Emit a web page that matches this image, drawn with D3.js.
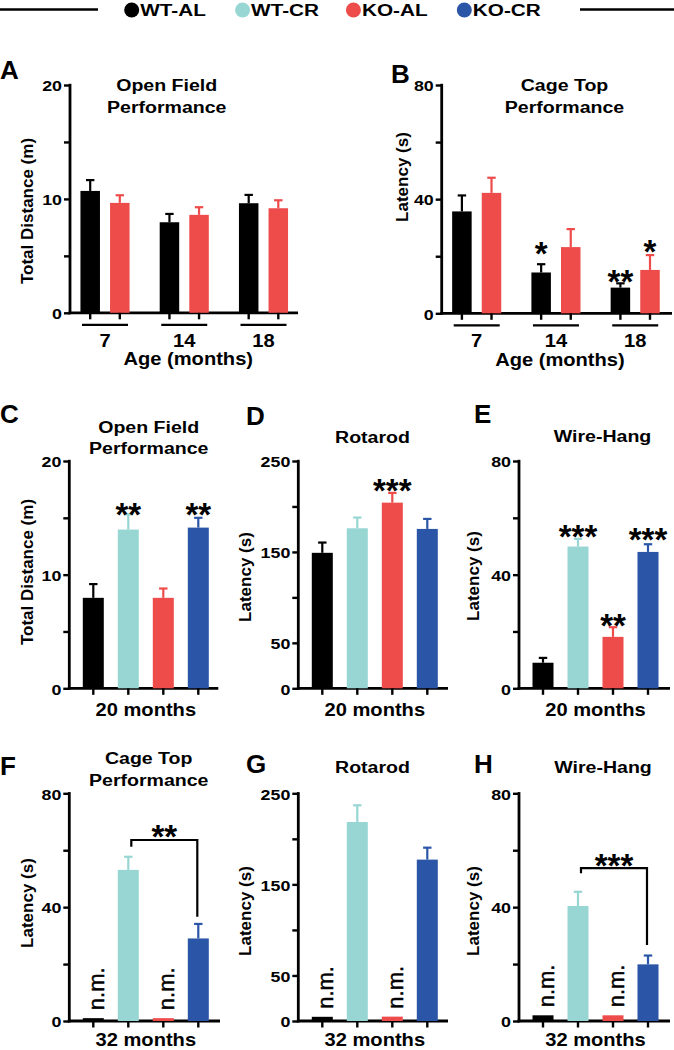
<!DOCTYPE html>
<html><head><meta charset="utf-8">
<script src="https://cdn.jsdelivr.net/npm/d3@7"></script>
<style>
body{margin:0;background:#fff}
svg{display:block}
text{font-family:"Liberation Sans",Arial,sans-serif;font-weight:bold;fill:#000}
</style>
</head><body><svg id="c" width="674" height="1050"></svg>
<script>
// ---------------- DATA ----------------
const seriesNames  = ['WT-AL','WT-CR','KO-AL','KO-CR'];
const seriesColors = ['#000000','#98d6d4','#ee4b4b','#2b55a6'];
const ageGroups    = ['7','14','18'];

// A: Open field, total distance (m) by age
const aWTAL = [10.7, 7.95, 9.62],  aWTALerr = [0.95, 0.73, 0.73];
const aKOAL = [9.65, 8.6, 9.18],   aKOALerr = [0.67, 0.67, 0.70];
// B: Cage top latency (s) by age
const bWTAL = [35.7, 14.3, 9.0],   bWTALerr = [5.6, 2.9, 1.5];
const bKOAL = [42.2, 23.2, 15.2],  bKOALerr = [5.3, 6.3, 5.2];
const bStars = [{g:'14', s:'WT-AL', t:'*', at:21.6}, {g:'18', s:'WT-AL', t:'**', at:11.7}, {g:'18', s:'KO-AL', t:'*', at:22.2}];
// C-E: 20 months
const cMean = [7.96, 13.97, 7.96, 14.14],  cErr = [1.21, 1.33, 0.82, 0.86];
const cStars = [null, '**', null, '**'],   cStarAt = [0, 15.5, 0, 15.5];
const dMean = [149, 176, 204.2, 175.3],    dErr = [11.3, 11.8, 10.7, 11.0];
const dStars = [null, null, '***', null],  dStarAt = [0, 0, 219.7, 0];
const eMean = [9.0, 49.9, 18.1, 48.0],     eErr = [1.7, 2.7, 3.4, 2.7];
const eStars = [null, '***', '**', '***'], eStarAt = [0, 54.2, 22.8, 53.1];
// F-H: 32 months (n.m. = not measurable)
const fMean = [1.0, 53.1, 1.0, 29.0],   fErr = [0, 4.6, 0, 5.1];
const gMean = [4.6, 218.5, 4.8, 177.2], gErr = [0, 18.3, 0, 13.1];
const hMean = [2.0, 40.4, 2.0, 19.9],   hErr = [0, 5.0, 0, 3.1];
const nmFlags = [true, false, true, false];
const fBracket = {from:'WT-CR', to:'KO-CR', top:63.6, left:61.2, right:36.6, t:'**'};
const hBracket = {from:'WT-CR', to:'KO-CR', top:53.7, left:51.9, right:26.7, t:'***'};

const ticks20 = [0,5,10,15,20],  labels20 = [0,10,20];
const ticks80 = [0,20,40,60,80], labels80 = [0,40,80];
const ticks250 = [0,50,100,150,200,250], labels250 = [0,50,150,250];

// ---------------- DRAW ----------------
const K = 1.15;
const svg = d3.select('#c');
const color = d3.scaleOrdinal().domain(seriesNames).range(seriesColors);

function hText(g, x, y, str, size, anchor, k) {
  return g.append('text').attr('transform', `translate(${x},${y}) scale(${k===undefined?K:k},1)`)
    .attr('text-anchor', anchor || 'middle').style('font-size', size + 'px').text(str);
}
function vText(g, x, y, str, size) {
  return g.append('text').attr('transform', `translate(${x},${y}) rotate(-90)`)
    .attr('text-anchor', 'middle').style('font-size', size + 'px').text(str);
}

function frame(cfg) {
  const g = svg.append('g');
  const y = d3.scaleLinear().domain([0, cfg.max]).range([cfg.yBot, cfg.yTop]);
  const ax = g.append('g').attr('transform', `translate(${cfg.x0},0)`)
    .call(d3.axisLeft(y).tickValues(cfg.ticks).tickSize(6).tickSizeOuter(0)
      .tickFormat(d => cfg.labels.includes(d) ? d : ''));
  ax.select('.domain').remove();
  ax.selectAll('.tick line').attr('stroke', '#000').attr('stroke-width', 2.4);
  ax.selectAll('.tick text').attr('x', 0).attr('dy', null)
    .attr('transform', `translate(-8,5.7) scale(${K},1)`)
    .attr('text-anchor', 'end').style('font-size', '15.5px').style('font-family', null);
  g.append('line').attr('x1', cfg.x0).attr('x2', cfg.x0).attr('y1', cfg.yTop - 1.2).attr('y2', cfg.yBot + 1.4)
    .attr('stroke', '#000').attr('stroke-width', 2.8);
  g.append('line').attr('x1', cfg.x0 - 1.4).attr('x2', cfg.x1).attr('y1', cfg.yBot).attr('y2', cfg.yBot)
    .attr('stroke', '#000').attr('stroke-width', 2.8);
  // panel letter
  hText(g, cfg.letter[1], cfg.letter[2], cfg.letter[0], 26, 'start', 1);
  // title
  cfg.title.forEach((t, i) => hText(g, cfg.titleX, cfg.titleY[i], t, 17));
  // y title
  vText(g, cfg.ytX, cfg.ytY, cfg.ytitle, 17);
  return {g, y};
}

function bar(g, y, cx, w, v, e, col) {
  g.append('rect').attr('x', cx - w / 2).attr('width', w)
    .attr('y', y(v)).attr('height', y(0) - y(v)).attr('fill', col);
  if (e > 0) {
    g.append('line').attr('x1', cx).attr('x2', cx).attr('y1', y(v)).attr('y2', y(v + e))
      .attr('stroke', col).attr('stroke-width', 2.2);
    g.append('line').attr('x1', cx - 4.2).attr('x2', cx + 4.2).attr('y1', y(v + e)).attr('y2', y(v + e))
      .attr('stroke', col).attr('stroke-width', 2.2);
  }
}
function xTick(g, cx, yb) {
  g.append('line').attr('x1', cx).attr('x2', cx).attr('y1', yb).attr('y2', yb + 6.5)
    .attr('stroke', '#000').attr('stroke-width', 2.4);
}
function stars(g, cx, yPix, t) {
  g.append('text').attr('x', cx).attr('y', yPix + 13.5).attr('text-anchor', 'middle')
    .style('font-size', '33px').text(t);
}

// ---- Panels A & B (age series) ----
function agePanel(cfg, wt, wtErr, ko, koErr, starList) {
  const {g, y} = frame(cfg);
  const gx = d3.scalePoint().domain(ageGroups).range([cfg.x0 + 35, cfg.x0 + 193.5]);
  const sx = d3.scalePoint().domain(['WT-AL', 'KO-AL']).range([-14.8, 14.8]);
  ageGroups.forEach((grp, i) => {
    [['WT-AL', wt[i], wtErr[i]], ['KO-AL', ko[i], koErr[i]]].forEach(([s, v, e]) => {
      const cx = gx(grp) + sx(s);
      bar(g, y, cx, 19.5, v, e, color(s));
      xTick(g, cx, cfg.yBot);
    });
    g.append('line').attr('x1', gx(grp) - 23).attr('x2', gx(grp) + 23)
      .attr('y1', cfg.yBot + 12).attr('y2', cfg.yBot + 12).attr('stroke', '#000').attr('stroke-width', 2.2);
    hText(g, gx(grp), cfg.yBot + 34, grp, 17.5);
  });
  (starList || []).forEach(st => stars(g, gx(st.g) + sx(st.s), y(st.at), st.t));
  hText(g, (gx('7') + gx('18')) / 2 + 4, cfg.yBot + 52.5, 'Age (months)', 17.5);
}

agePanel({x0:70, x1:298, yTop:85, yBot:312.8, max:20, ticks:ticks20, labels:labels20,
  letter:['A', 0, 79], title:['Open Field','Performance'], titleX:166.7, titleY:[91, 113],
  ytitle:'Total Distance (m)', ytX:32.5, ytY:211}, aWTAL, aWTALerr, aKOAL, aKOALerr, []);
agePanel({x0:441.7, x1:672, yTop:85, yBot:313.3, max:80, ticks:ticks80, labels:labels80,
  letter:['B', 391, 83], title:['Cage Top','Performance'], titleX:564.5, titleY:[90.5, 112.7],
  ytitle:'Latency (s)', ytX:407.5, ytY:177}, bWTAL, bWTALerr, bKOAL, bKOALerr, bStars);

// ---- Panels C-H (four groups) ----
function groupPanel(cfg, mean, err, starT, starAt, nm, bracket) {
  const {g, y} = frame(cfg);
  const x = d3.scalePoint().domain(seriesNames).range([cfg.x0 + 24, cfg.x0 + 129]);
  seriesNames.forEach((s, i) => {
    bar(g, y, x(s), 21, mean[i], err[i], color(s));
    xTick(g, x(s), cfg.yBot);
    if (starT && starT[i]) stars(g, x(s), y(starAt[i]), starT[i]);
    if (nm && nm[i]) {
      g.append('text').attr('transform', `translate(${x(s) + 11},${y(mean[i]) - 8}) rotate(-90)`)
        .attr('text-anchor', 'start').style('font-size', '22px').style('font-weight', 'normal')
        .attr('stroke', '#000').attr('stroke-width', 0.5).text('n.m.');
    }
  });
  if (bracket) {
    const xl = x(bracket.from) + 3, xr = x(bracket.to) - 1;
    g.append('path').attr('d', `M${xl},${y(bracket.left)}V${y(bracket.top)}H${xr}V${y(bracket.right)}`)
      .attr('fill', 'none').attr('stroke', '#000').attr('stroke-width', 2.2);
    stars(g, (xl + xr) / 2, y(bracket.top) - 5, bracket.t);
  }
  hText(g, (x('WT-AL') + x('KO-CR')) / 2, cfg.xlY, cfg.xlabel, 17.5);
}

groupPanel({x0:69.3, x1:218.3, yTop:461, yBot:688.3, max:20, ticks:ticks20, labels:labels20,
  letter:['C', 0, 423.3], title:['Open Field','Performance'], titleX:148.7, titleY:[432.7, 453.5],
  ytitle:'Total Distance (m)', ytX:32.5, ytY:572, xlabel:'20 months', xlY:715.5}, cMean, cErr, cStars, cStarAt);
groupPanel({x0:298.3, x1:448, yTop:461, yBot:688.3, max:250, ticks:ticks250, labels:labels250,
  letter:['D', 246, 425], title:['Rotarod'], titleX:372.5, titleY:[442.7],
  ytitle:'Latency (s)', ytX:250.5, ytY:577, xlabel:'20 months', xlY:715.5}, dMean, dErr, dStars, dStarAt);
groupPanel({x0:519, x1:670, yTop:461, yBot:688.3, max:80, ticks:ticks80, labels:labels80,
  letter:['E', 474, 423.3], title:['Wire-Hang'], titleX:602.5, titleY:[441.7],
  ytitle:'Latency (s)', ytX:479, ytY:576, xlabel:'20 months', xlY:715.5}, eMean, eErr, eStars, eStarAt);
groupPanel({x0:69.3, x1:220, yTop:793.3, yBot:1021, max:80, ticks:ticks80, labels:labels80,
  letter:['F', 0, 775], title:['Cage Top','Performance'], titleX:148.7, titleY:[764, 785.5],
  ytitle:'Latency (s)', ytX:32.5, ytY:903, xlabel:'32 months', xlY:1045.5}, fMean, fErr, null, null, nmFlags, fBracket);
groupPanel({x0:298.3, x1:448, yTop:793.3, yBot:1021, max:250, ticks:ticks250, labels:labels250,
  letter:['G', 246, 773.3], title:['Rotarod'], titleX:372.5, titleY:[773.3],
  ytitle:'Latency (s)', ytX:250.5, ytY:911, xlabel:'32 months', xlY:1045.5}, gMean, gErr, null, null, nmFlags);
groupPanel({x0:519, x1:670, yTop:793.3, yBot:1021, max:80, ticks:ticks80, labels:labels80,
  letter:['H', 474, 773], title:['Wire-Hang'], titleX:603, titleY:[773.3],
  ytitle:'Latency (s)', ytX:479, ytY:911, xlabel:'32 months', xlY:1045.5}, hMean, hErr, null, null, nmFlags, hBracket);

// ---- Legend ----
const leg = svg.append('g');
leg.append('line').attr('x1', 0).attr('x2', 98).attr('y1', 9.5).attr('y2', 9.5).attr('stroke', '#000').attr('stroke-width', 2.6);
leg.append('line').attr('x1', 580).attr('x2', 674).attr('y1', 9.5).attr('y2', 9.5).attr('stroke', '#000').attr('stroke-width', 2.6);
const legX = d3.scalePoint().domain(seriesNames).range([131.7, 464.3]);
seriesNames.forEach(s => {
  leg.append('circle').attr('cx', legX(s)).attr('cy', 10).attr('r', 7.5).attr('fill', color(s));
  hText(leg, legX(s) + 8.5, 16, s, 17, 'start', 1.22);
});
</script></body></html>
